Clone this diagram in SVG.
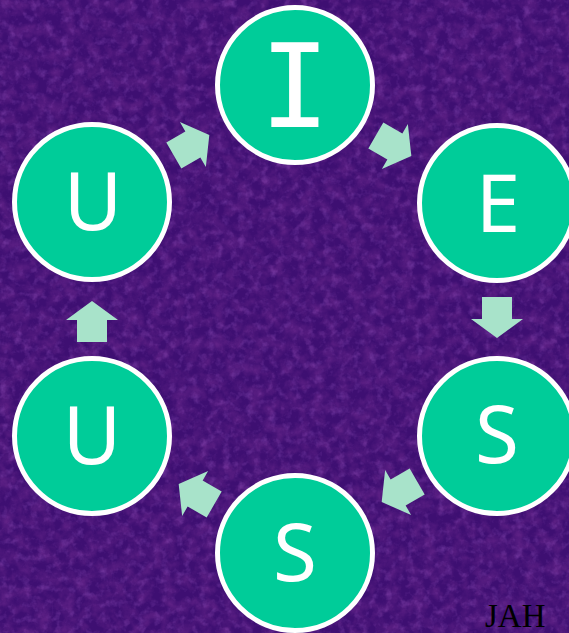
<svg xmlns="http://www.w3.org/2000/svg" xmlns:xlink="http://www.w3.org/1999/xlink" width="569" height="633" viewBox="0 0 569 633">
  <defs>
    <filter id="tex" x="0" y="0" width="100%" height="100%">
      <feTurbulence type="fractalNoise" baseFrequency="0.08" numOctaves="4" seed="5"/>
      <feColorMatrix type="matrix" values="0 0 0 0 0.14  0 0 0 0 0.02  0 0 0 0 0.26  1.4 0 0 0 -0.5"/>
    </filter>
    <filter id="tex2" x="0" y="0" width="100%" height="100%">
      <feTurbulence type="fractalNoise" baseFrequency="0.13" numOctaves="3" seed="11"/>
      <feColorMatrix type="matrix" values="0 0 0 0 0.38  0 0 0 0 0.12  0 0 0 0 0.62  0 0.8 0 0 -0.4"/>
    </filter>
    <path id="arr" d="M0,-20 L26,-1 L15,-1 L15,21 L-15,21 L-15,-1 L-26,-1 Z"/>
    <style>
      .node circle { fill: #00cc99; stroke: #ffffff; stroke-width: 5; }
      .node text { fill: #ffffff; font-family: "Noto Sans", "DejaVu Sans", sans-serif; font-size: 80px; text-anchor: middle; }
      .node text.mono { font-family: "DejaVu Sans Mono", monospace; font-size: 116px; }
      .conn use { fill: #a8e3ca; }
      .sig { font-family: "Liberation Serif", "Times New Roman", serif; font-size: 33px; fill: #000000; }
    </style>
  </defs>

  <rect x="0" y="0" width="569" height="633" fill="#3e0f72"/>
  <rect x="0" y="0" width="569" height="633" filter="url(#tex)"/>
  <rect x="0" y="0" width="569" height="633" filter="url(#tex2)"/>

  <g id="connectors" class="conn">
    <use xlink:href="#arr" transform="translate(192,145) rotate(60)"/>
    <use xlink:href="#arr" transform="translate(394,146) rotate(120)"/>
    <use xlink:href="#arr" transform="translate(497,318) rotate(180)"/>
    <use xlink:href="#arr" transform="translate(399,492) rotate(240)"/>
    <use xlink:href="#arr" transform="translate(196,494) rotate(300)"/>
    <use xlink:href="#arr" transform="translate(92,321)"/>
  </g>

  <g id="node-I" class="node">
    <circle cx="295" cy="85" r="77.5"/>
    <text class="mono" x="295" y="127">I</text>
  </g>
  <g id="node-E" class="node">
    <circle cx="497" cy="203" r="77.5"/>
    <text x="498" y="232">E</text>
  </g>
  <g id="node-S1" class="node">
    <circle cx="497" cy="436" r="77.5"/>
    <text x="497" y="463">S</text>
  </g>
  <g id="node-S2" class="node">
    <circle cx="295" cy="553" r="77.5"/>
    <text x="295" y="581">S</text>
  </g>
  <g id="node-U1" class="node">
    <circle cx="92" cy="436" r="77.5"/>
    <text x="92" y="464">U</text>
  </g>
  <g id="node-U2" class="node">
    <circle cx="92" cy="202" r="77.5"/>
    <text x="93" y="230">U</text>
  </g>

  <text class="sig" x="485" y="627">JAH</text>
</svg>
